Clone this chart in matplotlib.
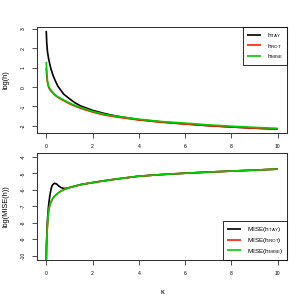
import matplotlib
matplotlib.use("Agg")
import matplotlib.pyplot as plt

plt.rcParams['font.family'] = ['Liberation Sans', 'DejaVu Sans']
plt.rcParams['mathtext.fontset'] = 'custom'
plt.rcParams['mathtext.rm'] = 'Liberation Sans'

# ---- top panel: log(h) vs kappa ----
k_top = [0, 0.02, 0.05, 0.1, 0.15, 0.2, 0.3, 0.4, 0.5, 0.75, 1.0, 1.25, 1.5, 2, 2.5, 3, 4, 5, 6, 7, 8, 9, 10]
h_tay = [2.9, 2.3, 1.85, 1.47, 1.2, 0.95, 0.58, 0.3, 0.05, -0.36, -0.6, -0.82, -0.98, -1.2, -1.36, -1.49,
         -1.68, -1.8, -1.9, -1.99, -2.06, -2.12, -2.17]
h_rot = [1.0, 0.6, 0.25, 0.0, -0.12, -0.2, -0.33, -0.44, -0.53, -0.7, -0.86, -0.99, -1.1, -1.29, -1.44, -1.54,
         -1.7, -1.82, -1.91, -1.99, -2.06, -2.12, -2.17]
h_mise = [1.3, 0.8, 0.35, 0.05, -0.07, -0.15, -0.3, -0.41, -0.5, -0.66, -0.82, -0.95, -1.05, -1.25, -1.4, -1.5,
          -1.66, -1.78, -1.86, -1.95, -2.02, -2.08, -2.13]

# ---- bottom panel: log(MISE(h)) vs kappa ----
k_bot = [0, 0.01, 0.03, 0.05, 0.1, 0.15, 0.2, 0.25, 0.3, 0.36, 0.45, 0.55, 0.65, 0.76, 0.9, 1.0, 1.2,
         1.5, 2, 2.5, 3, 4, 5, 6, 7, 8, 9, 10]
mise_tay = [-10.3, -9.3, -8.5, -7.9, -6.95, -6.4, -6.0, -5.75, -5.66, -5.6, -5.65, -5.78, -5.87, -5.92, -5.9,
            -5.86, -5.79, -5.68, -5.56, -5.45, -5.35, -5.17, -5.07, -4.99, -4.92, -4.86, -4.8, -4.74]
mise_rot = [-10.3, -9.5, -8.8, -8.2, -7.3, -6.95, -6.75, -6.6, -6.5, -6.38, -6.27, -6.16, -6.07, -5.99, -5.92,
            -5.87, -5.79, -5.68, -5.56, -5.45, -5.35, -5.17, -5.07, -4.99, -4.92, -4.86, -4.8, -4.74]
mise_mise = [-10.3, -9.5, -8.8, -8.2, -7.3, -6.95, -6.75, -6.6, -6.5, -6.38, -6.27, -6.16, -6.07, -5.99, -5.92,
             -5.87, -5.79, -5.68, -5.56, -5.45, -5.35, -5.17, -5.07, -4.99, -4.92, -4.86, -4.8, -4.74]

x_ticks = [0, 2, 4, 6, 8, 10]
top_yticks = [-2, -1, 0, 1, 2, 3]
bot_yticks = [-10, -9, -8, -7, -6, -5, -4]

top_labels = [r'$\mathregular{h_{TAY}}$', r'$\mathregular{h_{ROT}}$', r'$\mathregular{h_{MISE}}$']
bot_labels = [r'MISE($\mathregular{h_{TAY}}$)', r'MISE($\mathregular{h_{ROT}}$)', r'MISE($\mathregular{h_{MISE}}$)']

colors = ['black', '#FF1A00', '#00CC00']

W = 306.0
fig = plt.figure(figsize=(3.06, 3.06), dpi=100)
ax1 = fig.add_axes([37 / W, (W - 133) / W, 250 / W, 106 / W])
ax2 = fig.add_axes([37 / W, (W - 259.5) / W, 250 / W, 106.5 / W])

lw = 1.2
for y, c, lab in zip([h_tay, h_rot, h_mise], colors, top_labels):
    ax1.plot(k_top, y, color=c, lw=lw, label=lab, solid_capstyle='butt')
for y, c, lab in zip([mise_tay, mise_rot, mise_mise], colors, bot_labels):
    ax2.plot(k_bot, y, color=c, lw=lw, label=lab, solid_capstyle='butt')

ax1.set_xlim(-0.4, 10.4)
ax1.set_ylim(-2.37, 3.1)
ax2.set_xlim(-0.4, 10.4)
ax2.set_ylim(-10.24, -3.76)

for ax, yt in [(ax1, top_yticks), (ax2, bot_yticks)]:
    ax.set_xticks(x_ticks)
    ax.set_xticklabels([str(v) for v in x_ticks])
    ax.set_yticks(yt)
    ax.set_yticklabels([str(v) for v in yt], rotation=90, va='center')
    ax.tick_params(direction='out', length=3.6, width=0.6, labelsize=3.6, pad=4.5, color='#333333')
    for s in ax.spines.values():
        s.set_linewidth(0.75)
        s.set_color('#333333')

ax1.set_ylabel('log(h)', fontsize=5.3)
ax2.set_ylabel('log(MISE(h))', fontsize=5.3)
for ax in (ax1, ax2):
    ax.yaxis.set_label_coords(-31 / 250, 0.5)
    ax.yaxis.label.set_va('center')
fig.text(162 / W, 1 - 293 / W, 'κ', fontsize=5.3, ha='center', va='center')

for ax in (ax1, ax2):
    leg = ax.legend(loc='upper right' if ax is ax1 else 'lower right', fontsize=4.6, frameon=True,
                    fancybox=False, borderaxespad=0, handlelength=2.2, handletextpad=0.9,
                    labelspacing=0.3, borderpad=0.6)
    leg.get_frame().set_edgecolor('black')
    leg.get_frame().set_linewidth(0.75)

fig.savefig('out.png', dpi=100)
